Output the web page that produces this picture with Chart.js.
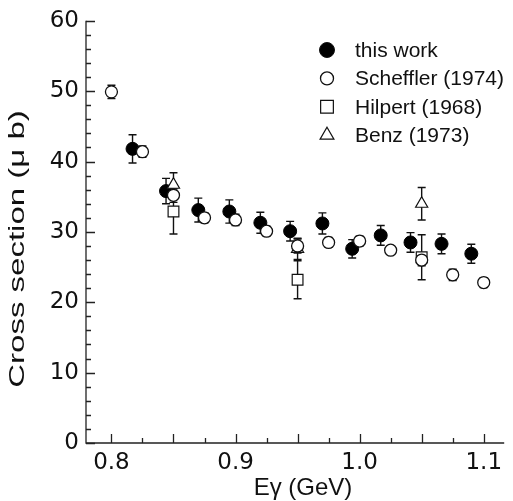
<!DOCTYPE html>
<html>
<head>
<meta charset="utf-8">
<script src="https://cdn.jsdelivr.net/npm/chart.js@4"></script>
<style>
  html, body { margin: 0; padding: 0; background: #fff; }
  #wrap { width: 513px; height: 501px; }
</style>
</head>
<body>
<div id="wrap"><canvas id="chart"></canvas></div>
<script>
// data
const workE = [0.817, 0.844, 0.870, 0.895, 0.920, 0.944, 0.970, 0.994, 1.017, 1.041, 1.066, 1.090];
const workY = [41.8, 35.8, 33.1, 32.9, 31.3, 30.1, 31.2, 27.6, 29.5, 28.5, 28.3, 26.9];
const workErr = [2.0, 1.8, 1.7, 1.65, 1.5, 1.4, 1.5, 1.3, 1.4, 1.4, 1.4, 1.35];

const schefE = [0.800, 0.825, 0.850, 0.875, 0.900, 0.925, 0.950, 0.975, 1.000, 1.025, 1.050, 1.075, 1.100];
const schefY = [49.9, 41.4, 35.2, 32.0, 31.7, 30.1, 28.0, 28.5, 28.7, 27.4, 26.0, 23.9, 22.8];
const schefErr = [0.95, 0.8, 1.0, 0.7, 0.8, 0.7, 1.0, 0.7, 0.7, 0.6, 0.8, 0.8, 0.7];

const hilpE = [0.850, 0.950, 1.050];
const hilpY = [32.9, 23.2, 26.4];
const hilpErr = [3.2, 2.7, 3.2];

const benzE = [0.850, 0.950, 1.050];
const benzY = [36.7, 27.6, 34.0];
const benzErr = [1.7, 1.5, 2.3];

const xLabels = ['0.8', '0.9', '1.0', '1.1'];
const yLabels = ['0', '10', '20', '30', '40', '50', '60'];

const FONT = "'Liberation Sans', Arial, sans-serif";
const TICK_FONT = "'DejaVu Sans', sans-serif";

function pts(xs, ys, es) {
  return xs.map((x, i) => ({ x: x, y: ys[i], err: es[i] }));
}

// error bars, inward ticks, axis titles, legend
const paperPlugin = {
  id: 'paper',
  beforeDatasetsDraw(chart) {
    const ctx = chart.ctx;
    const xs = chart.scales.x, ys = chart.scales.y;
    ctx.save();
    ctx.strokeStyle = '#111';
    ctx.lineWidth = 1.4;
    chart.data.datasets.forEach(ds => {
      ds.data.forEach(p => {
        const px = xs.getPixelForValue(p.x);
        const top = ys.getPixelForValue(p.y + p.err);
        const bot = ys.getPixelForValue(p.y - p.err);
        ctx.beginPath();
        ctx.moveTo(px, top); ctx.lineTo(px, bot);
        ctx.moveTo(px - 4, top); ctx.lineTo(px + 4, top);
        ctx.moveTo(px - 4, bot); ctx.lineTo(px + 4, bot);
        ctx.stroke();
      });
    });
    ctx.restore();
  },
  afterDraw(chart) {
    const ctx = chart.ctx;
    const xs = chart.scales.x, ys = chart.scales.y;
    const a = chart.chartArea;
    ctx.save();
    ctx.strokeStyle = '#222';
    ctx.lineWidth = 1.3;
    // axes lines
    ctx.beginPath();
    ctx.moveTo(a.left, a.top); ctx.lineTo(a.left, a.bottom); ctx.lineTo(a.right, a.bottom);
    ctx.stroke();
    // y ticks, every 2, long at 10
    ctx.beginPath();
    for (let v = 0; v <= 60; v += 2) {
      const py = Math.round(ys.getPixelForValue(v)) + 0.5;
      const len = v % 10 === 0 ? 9 : 5;
      ctx.moveTo(a.left, py); ctx.lineTo(a.left + len, py);
    }
    // x ticks, every 0.025, long at 0.05
    for (let k = 0; k <= 12; k++) {
      const v = 0.8 + k * 0.025;
      const px = Math.round(xs.getPixelForValue(v)) + 0.5;
      const len = k % 2 === 0 ? 9 : 5;
      ctx.moveTo(px, a.bottom); ctx.lineTo(px, a.bottom - len);
    }
    ctx.stroke();

    // titles
    ctx.fillStyle = '#111';
    ctx.font = '24px ' + FONT;
    ctx.textAlign = 'center';
    ctx.textBaseline = 'middle';
    ctx.fillText('E\u03b3 (GeV)', 303, 488);
    ctx.font = '22px ' + FONT;
    ctx.translate(18, 249);
    ctx.rotate(-Math.PI / 2);
    ctx.scale(1.5, 1);
    ctx.fillText('Cross section (\u03bc b)', 0, 0);
    ctx.restore();

    // legend
    ctx.save();
    ctx.font = '21px ' + FONT;
    ctx.textAlign = 'left';
    ctx.textBaseline = 'middle';
    chart.data.datasets.forEach((ds, i) => {
      const y = 50 + i * 28.4;
      ctx.strokeStyle = '#111';
      ctx.fillStyle = ds.backgroundColor;
      ctx.lineWidth = ds.borderWidth;
      Chart.helpers.drawPoint(ctx, {
        pointStyle: ds.pointStyle, radius: ds.legendRadius, rotation: 0, borderWidth: ds.borderWidth
      }, 327, y);
      ctx.fillStyle = '#111';
      ctx.fillText(ds.label, 355, y + 1);
    });
    ctx.restore();
  }
};

new Chart(document.getElementById('chart'), {
  type: 'scatter',
  data: {
    datasets: [
      {
        label: 'this work', data: pts(workE, workY, workErr),
        pointStyle: 'circle', pointRadius: 6.5, legendRadius: 7.5,
        backgroundColor: '#000', borderColor: '#000', borderWidth: 1, order: 3
      },
      {
        label: 'Scheffler (1974)', data: pts(schefE, schefY, schefErr),
        pointStyle: 'circle', pointRadius: 6, legendRadius: 6.5,
        backgroundColor: '#fff', borderColor: '#111', borderWidth: 1.3, order: 0
      },
      {
        label: 'Hilpert (1968)', data: pts(hilpE, hilpY, hilpErr),
        pointStyle: 'rect', pointRadius: 7.6, legendRadius: 9,
        backgroundColor: '#fff', borderColor: '#111', borderWidth: 1.2, order: 2
      },
      {
        label: 'Benz (1973)', data: pts(benzE, benzY, benzErr),
        pointStyle: 'triangle', pointRadius: 7, legendRadius: 8,
        backgroundColor: '#fff', borderColor: '#111', borderWidth: 1.2, order: 1
      }
    ]
  },
  options: {
    responsive: true,
    maintainAspectRatio: false,
    animation: false,
    events: [],
    layout: { padding: { top: 20, right: 0, left: 0, bottom: 0 } },
    plugins: { legend: { display: false }, tooltip: { enabled: false } },
    scales: {
      x: {
        type: 'linear', min: 0.7795, max: 1.1165,
        afterFit(scale) { scale.height = 58; },
        afterBuildTicks(scale) { scale.ticks = xLabels.map(t => ({ value: parseFloat(t) })); },
        grid: { display: false, drawTicks: false },
        border: { display: false },
        ticks: {
          padding: 6, color: '#111',
          font: { family: TICK_FONT, size: 23 },
          callback: v => xLabels.find(t => Math.abs(parseFloat(t) - v) < 1e-6)
        }
      },
      y: {
        type: 'linear', min: 0, max: 60,
        afterFit(scale) { scale.width = 86; },
        afterBuildTicks(scale) { scale.ticks = yLabels.map(t => ({ value: Number(t) })); },
        grid: { display: false, drawTicks: false },
        border: { display: false },
        ticks: {
          padding: 7, color: '#111',
          font: { family: TICK_FONT, size: 23 },
          callback: v => String(v)
        }
      }
    }
  },
  plugins: [paperPlugin]
});
</script>
</body>
</html>
